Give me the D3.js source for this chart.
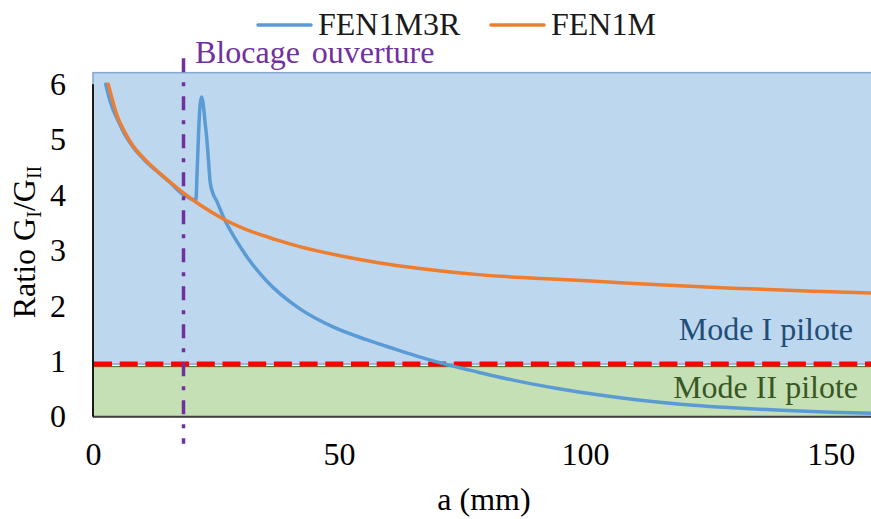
<!DOCTYPE html>
<html>
<head>
<meta charset="utf-8">
<script src="https://cdn.jsdelivr.net/npm/d3@7"></script>
<style>
  html, body { margin: 0; padding: 0; background: #fff; }
  svg { display: block; }
</style>
</head>
<body>
<svg id="chart" width="871" height="519"></svg>
<script>
// ---------- data ----------
const seriesNames = ["FEN1M3R", "FEN1M"];
const seriesColors = ["#5b9bd5", "#ed7d31"];

const fen1m3rA = [2.6, 3.2, 4.0, 4.8, 6.5, 8.2, 10.5, 13, 15.5, 18.5, 20.9, 21.2, 21.5, 21.8, 22.1, 22.4, 22.8, 23.1, 23.5, 23.8, 24.3, 25.1, 26.8, 29, 31.5, 35.3, 42, 48.8, 55.6, 61.4, 66, 72, 78, 85.4, 95, 103, 110, 120, 130, 140, 150, 158.5];
const fen1m3rV = [6.0, 5.78, 5.56, 5.4, 5.09, 4.86, 4.63, 4.43, 4.24, 4.0, 3.91, 4.5, 5.2, 5.65, 5.77, 5.65, 5.3, 5.05, 4.6, 4.25, 4.05, 3.9, 3.55, 3.2, 2.86, 2.45, 1.95, 1.62, 1.39, 1.22, 1.09, 0.94, 0.81, 0.66, 0.5, 0.39, 0.31, 0.22, 0.16, 0.115, 0.08, 0.06];

const fen1mA = [3.1, 4.0, 4.8, 6.5, 8.2, 10.5, 13, 15.5, 18.5, 21.8, 26.5, 32, 37, 42, 50, 58, 66, 79, 90, 103, 115, 130, 145, 158.5];
const fen1mV = [6.0, 5.7, 5.46, 5.13, 4.88, 4.65, 4.44, 4.25, 4.03, 3.82, 3.57, 3.35, 3.2, 3.07, 2.91, 2.78, 2.68, 2.56, 2.5, 2.44, 2.38, 2.32, 2.27, 2.23];

const xTicks = [0, 50, 100, 150];
const yTicks = [0, 1, 2, 3, 4, 5, 6];

const blockingA = 18.4;          // "Blocage ouverture" position (mm)
const modeThreshold = 0.95;      // boundary Mode I / Mode II
const zoneTop = 6.21;            // top of Mode I shaded zone

const xTitle = "a (mm)";
const blockingLabel = "Blocage ouverture";
const modeILabel = "Mode I pilote";
const modeIILabel = "Mode II pilote";

// ---------- scales ----------
const FONT = "Liberation Serif";
const FS = 32;
const svg = d3.select("#chart");
const W = 871;
const x = d3.scaleLinear().domain([0, 160]).range([93, 880]);
const y = d3.scaleLinear().domain([0, 6]).range([416.7, 84.3]);
const xMin = x(0), xMax = W;

function txt(sel, size) {
  return sel.style("font-family", FONT).style("font-size", (size || FS) + "px");
}

// ---------- zones ----------
svg.append("rect")
  .attr("x", xMin).attr("y", y(zoneTop))
  .attr("width", xMax - xMin + 2).attr("height", y(modeThreshold) - y(zoneTop))
  .attr("fill", "#bdd7ee").attr("stroke", "#83a7cf").attr("stroke-width", 1.5);

svg.append("rect")
  .attr("x", xMin).attr("y", y(modeThreshold) + 2.5)
  .attr("width", xMax - xMin + 2).attr("height", y(0) - y(modeThreshold) - 2.5)
  .attr("fill", "#c5e0b4").attr("stroke", "#548235").attr("stroke-width", 1.2);

// ---------- axes ----------
const yAxis = d3.axisLeft(y).tickValues(yTicks).tickSize(0).tickPadding(27).tickFormat(d3.format("d"));
const gy = svg.append("g").attr("transform", `translate(${xMin},0)`).call(yAxis);
gy.attr("font-family", null).attr("font-size", null);
gy.select(".domain").remove();
txt(gy.selectAll("text").attr("fill", "#000"));

const xAxis = d3.axisBottom(x).tickValues(xTicks).tickSize(0).tickPadding(26).tickFormat(d3.format("d"));
const gx = svg.append("g").attr("transform", `translate(0,${y(0)})`).call(xAxis);
gx.attr("font-family", null).attr("font-size", null);
gx.select(".domain").remove();
txt(gx.selectAll("text").attr("fill", "#000"));

// axis lines
svg.append("line").attr("x1", xMin).attr("x2", xMax).attr("y1", y(0)).attr("y2", y(0))
  .attr("stroke", "#404040").attr("stroke-width", 2);
svg.append("line").attr("x1", xMin).attr("x2", xMin).attr("y1", y(6)).attr("y2", y(0))
  .attr("stroke", "#1a1a1a").attr("stroke-width", 2);

// ---------- threshold dashed line ----------
svg.append("line")
  .attr("x1", xMin + 1).attr("x2", xMax).attr("y1", y(modeThreshold)).attr("y2", y(modeThreshold))
  .attr("stroke", "#ff0000").attr("stroke-width", 5).attr("stroke-dasharray", "18,7.7");

// ---------- series ----------
const line = d3.line().x(d => x(d[0])).y(d => y(d[1])).curve(d3.curveMonotoneX);
const seriesData = [
  d3.zip(fen1m3rA, fen1m3rV),
  d3.zip(fen1mA, fen1mV)
];
svg.append("clipPath").attr("id", "clip").append("rect")
  .attr("x", xMin).attr("y", 0).attr("width", xMax - xMin).attr("height", 519);
seriesData.forEach((data, i) => {
  svg.append("path").datum(data)
    .attr("d", line)
    .attr("fill", "none")
    .attr("stroke", seriesColors[i])
    .attr("stroke-width", 3.5)
    .attr("stroke-linejoin", "round")
    .attr("stroke-linecap", "round")
    .attr("clip-path", "url(#clip)");
});

// ---------- blocking vertical line ----------
svg.append("line")
  .attr("x1", x(blockingA)).attr("x2", x(blockingA))
  .attr("y1", y(6.47)).attr("y2", y(-0.49))
  .attr("stroke", "#7030a0").attr("stroke-width", 3.5)
  .attr("stroke-dasharray", "14,10,4,10");

txt(svg.append("text")
  .attr("x", 195).attr("y", 63)
  .attr("fill", "#7030a0").style("word-spacing", "4px")
  .text(blockingLabel));

// ---------- zone labels ----------
txt(svg.append("text").attr("x", 853).attr("y", 340).attr("text-anchor", "end")
  .attr("fill", "#1f4e79").text(modeILabel));
txt(svg.append("text").attr("x", 858).attr("y", 398).attr("text-anchor", "end")
  .attr("fill", "#385723").text(modeIILabel));

// ---------- axis titles ----------
txt(svg.append("text").attr("x", 484).attr("y", 510).attr("text-anchor", "middle")
  .attr("fill", "#000").text(xTitle));

const yt = txt(svg.append("text")
  .attr("transform", "translate(35,242) rotate(-90)")
  .attr("text-anchor", "middle").attr("fill", "#000"));
yt.append("tspan").text("Ratio G");
txt(yt.append("tspan"), 20).attr("dy", 6).text("I");
yt.append("tspan").attr("dy", -6).text("/G");
txt(yt.append("tspan"), 20).attr("dy", 6).text("II");

// ---------- legend ----------
const legendX = [258, 491];
seriesNames.forEach((name, i) => {
  svg.append("line").attr("x1", legendX[i]).attr("x2", legendX[i] + 53)
    .attr("y1", 25).attr("y2", 25)
    .attr("stroke", seriesColors[i]).attr("stroke-width", 3.5).attr("stroke-linecap", "round");
  txt(svg.append("text").attr("x", legendX[i] + 60).attr("y", 35)
    .attr("fill", "#1a1a1a").text(name));
});
</script>
</body>
</html>
